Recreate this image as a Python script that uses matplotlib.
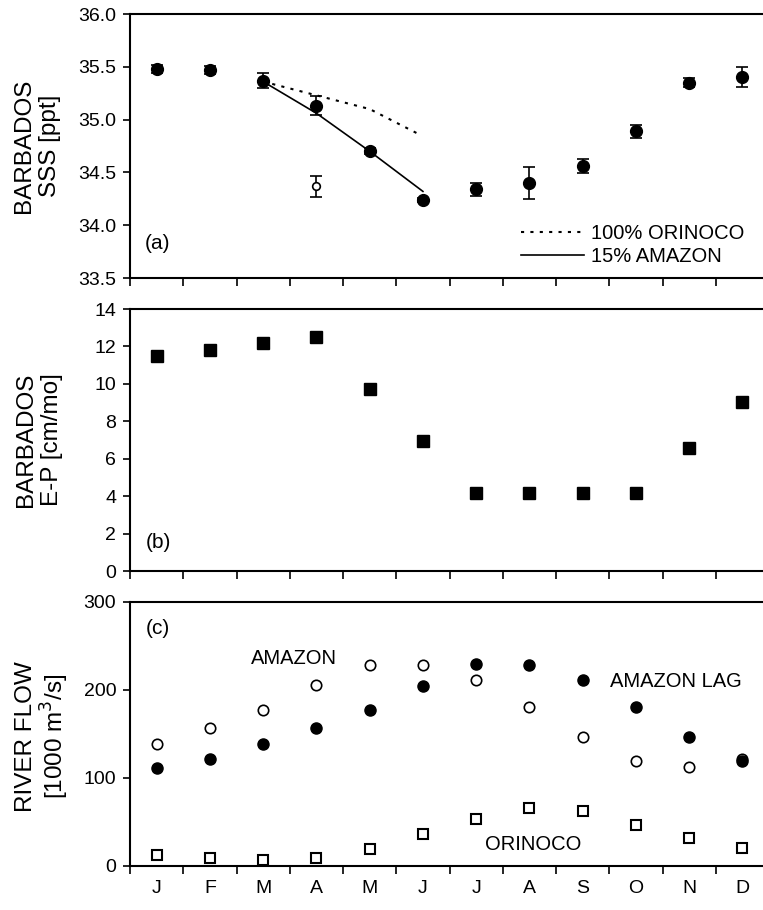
import numpy as np
import matplotlib
matplotlib.use("Agg")
import matplotlib.pyplot as plt

plt.rcParams['font.family'] = ['Liberation Sans', 'DejaVu Sans']

months = ['J', 'F', 'M', 'A', 'M', 'J', 'J', 'A', 'S', 'O', 'N', 'D']

# (a) Barbados sea surface salinity
sss = [35.48, 35.47, 35.37, 35.13, 34.70, 34.24, 34.34, 34.40, 34.56, 34.89, 35.35, 35.40]
sss_err = [0.04, 0.04, 0.07, 0.09, 0.03, 0.02, 0.06, 0.15, 0.07, 0.06, 0.04, 0.095]
sss_open_month = [3]
sss_open = [34.37]
sss_open_err = [0.10]
orinoco_months = [2, 3, 4, 4.97]
orinoco_100 = [35.36, 35.23, 35.10, 34.85]
amazon_months = [2, 3, 4, 5]
amazon_15 = [35.36, 35.06, 34.70, 34.32]

# (b) Barbados E-P
ep = [11.5, 11.8, 12.18, 12.5, 9.73, 6.95, 4.17, 4.17, 4.17, 4.17, 6.6, 9.02]

# (c) River flow [1000 m3/s]
amazon = [138.7, 156.9, 177.7, 205.4, 228.6, 228.2, 210.8, 180.4, 146.6, 118.9, 112.0, 121.0]
amazon_lag = [111.3, 121.5, 138.7, 156.5, 177.7, 205.0, 229.0, 228.2, 211.6, 180.8, 147.0, 119.0]
orinoco = [12.5, 8.7, 6.8, 8.7, 19.0, 36.5, 53.0, 65.7, 62.7, 46.0, 31.5, 20.9]

x = np.arange(12)

fig = plt.figure(figsize=(7.63, 9.10), dpi=100)
left, width = 0.1704, 0.8376
ax1 = fig.add_axes([left, 0.6945, width, 0.2901])
ax2 = fig.add_axes([left, 0.3725, width, 0.2879])
ax3 = fig.add_axes([left, 0.0484, width, 0.2901])

for ax in (ax1, ax2, ax3):
    ax.set_xlim(-0.5, 11.5)
    ax.set_xticks(np.arange(-0.5, 12, 1))
    ax.set_xticklabels([])
    ax.set_xticks(x, minor=True)
    ax.tick_params(axis='x', which='major', direction='out', length=6, width=1.2)
    ax.tick_params(axis='x', which='minor', length=0, pad=10, labelsize=14)
    ax.tick_params(axis='y', direction='out', length=5, width=1.2, pad=5, labelsize=14)
    ax.spines['right'].set_visible(False)
    for s in ('left', 'bottom', 'top'):
        ax.spines[s].set_linewidth(1.5)
ax3.set_xticklabels(months, minor=True)

# panel (a)
ax1.errorbar(x, sss, yerr=sss_err, fmt='o', color='black', ms=8.5,
             capsize=4, elinewidth=1.2, capthick=1.2, zorder=3)
ax1.errorbar(sss_open_month, sss_open, yerr=sss_open_err, fmt='o', mfc='white',
             mec='black', ecolor='black', ms=5.5, mew=1.2, capsize=4,
             elinewidth=1.2, capthick=1.2, zorder=3)
l_ori, = ax1.plot(orinoco_months, orinoco_100, color='black', lw=1.5,
                  ls=(0, (1.5, 3)), label='100% ORINOCO')
l_ama, = ax1.plot(amazon_months, amazon_15, color='black', lw=1.2,
                  label='15% AMAZON')
ax1.set_ylim(33.5, 36.0)
ax1.set_yticks(np.arange(33.5, 36.01, 0.5))
ax1.set_yticklabels([f'{v:.1f}' for v in np.arange(33.5, 36.01, 0.5)])
ax1.legend(handles=[l_ori, l_ama], loc='lower right', bbox_to_anchor=(0.98, 0.0),
           frameon=False, fontsize=14.5, handlelength=3.1, handletextpad=0.35,
           labelspacing=0.2, borderaxespad=0.2)
ax1.text(-0.22, 33.83, '(a)', fontsize=15, va='center')
ax1.set_ylabel('BARBADOS\nSSS [ppt]', fontsize=17.5, linespacing=1.25)
ax1.yaxis.set_label_coords(-0.108, 0.5)

# panel (b)
ax2.plot(x, ep, 's', color='black', ms=8)
ax2.set_ylim(0, 14)
ax2.set_yticks(np.arange(0, 15, 2))
ax2.text(-0.2, 1.5, '(b)', fontsize=15, va='center')
ax2.set_ylabel('BARBADOS\nE-P [cm/mo]', fontsize=17.5, linespacing=1.25)
ax2.yaxis.set_label_coords(-0.105, 0.5)

# panel (c)
ax3.plot(x, amazon, 'o', mfc='white', mec='black', mew=1.2, ms=7.5)
ax3.plot(x, amazon_lag, 'o', color='black', ms=8)
ax3.plot(x, orinoco, 's', mfc='white', mec='black', mew=1.5, ms=7.5)
ax3.set_ylim(0, 300)
ax3.set_yticks([0, 100, 200, 300])
ax3.text(-0.2, 270, '(c)', fontsize=15, va='center')
ax3.text(2.57, 236, 'AMAZON', fontsize=14.5, ha='center', va='center')
ax3.text(8.51, 209.6, 'AMAZON LAG', fontsize=14.5, ha='left', va='center')
ax3.text(6.17, 24, 'ORINOCO', fontsize=14.5, ha='left', va='center')
ax3.set_ylabel('RIVER FLOW\n[1000 m$^3$/s]', fontsize=17.5, linespacing=1.1)
ax3.yaxis.set_label_coords(-0.092, 0.49)

fig.savefig('out.png', dpi=100)
